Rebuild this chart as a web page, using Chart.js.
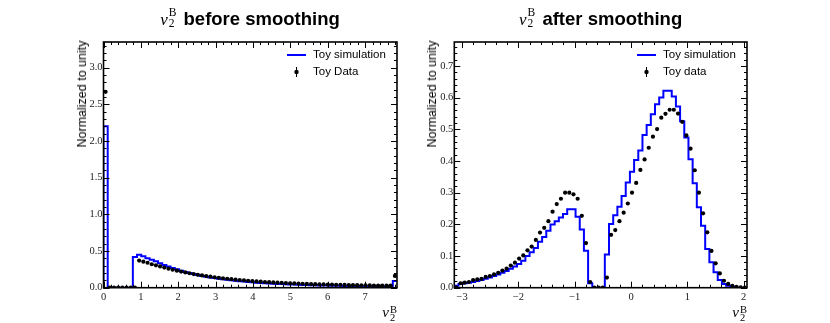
<!DOCTYPE html>
<html>
<head>
<meta charset="utf-8">
<script src="https://cdn.jsdelivr.net/npm/chart.js@4.4.1/dist/chart.umd.min.js"></script>
<style>
  body { margin: 0; background: #fff; }
  #wrap { position: relative; width: 830px; height: 323px; overflow: hidden; font-family: 'Liberation Sans', Arial, sans-serif; color: #000; }
  canvas { position: absolute; top: 0; }
  .title { position: absolute; top: 7px; font-weight: bold; font-size: 18.5px; line-height: 22px; text-align: center; white-space: nowrap; }
  .m { font-family: 'Liberation Serif', serif; font-weight: normal; }
  .m i { font-size: 17px; }
  .ss { display: inline-block; font-size: 11.5px; line-height: 11px; vertical-align: -2px; margin-left: 1px; margin-right: 2px; text-align: left; }
  .ss span { display: block; }
  .ylab { position: absolute; top: 94px; font-size: 12.5px; white-space: nowrap; transform: translate(-50%, -50%) rotate(-90deg); }
  .xlab { position: absolute; top: 304px; line-height: 16px; white-space: nowrap; }
  .xlab i { font-size: 15px; }
  .xlab .ss { font-size: 10.5px; line-height: 8.5px; vertical-align: -4px; margin-right: 0; }
</style>
</head>
<body>
<div id="wrap">
  <canvas id="before" width="415" height="323" style="left:0"></canvas>
  <canvas id="after" width="415" height="323" style="left:415px"></canvas>

  <div class="title" style="left:103.5px;width:293px"><span class="m"><i>v</i><span class="ss"><span>B</span><span>2</span></span></span> before smoothing</div>
  <div class="title" style="left:454.3px;width:292.7px"><span class="m"><i>v</i><span class="ss"><span>B</span><span>2</span></span></span> after smoothing</div>

  <div class="ylab" style="left:81.5px">Normalized to unity</div>
  <div class="ylab" style="left:431.5px">Normalized to unity</div>

  <div class="xlab m" style="right:433px"><i>v</i><span class="ss"><span>B</span><span>2</span></span></div>
  <div class="xlab m" style="right:83px"><i>v</i><span class="ss"><span>B</span><span>2</span></span></div>
</div>

<script>
// binning of both histograms (70 bins each)
const nBins = 70;
const rangeBefore = [0, 7.854];
const rangeAfter = [-3.14, 2.06];

const seriesNames = ['Toy simulation', 'Toy Data', 'Toy data'];

// before smoothing
const simBefore = [
  2.20, 0, 0, 0, 0, 0, 0, 0.42, 0.45, 0.43,
  0.40, 0.38, 0.36, 0.335, 0.31, 0.29, 0.27, 0.25, 0.232, 0.215,
  0.20, 0.186, 0.173, 0.161, 0.150, 0.140, 0.131, 0.122, 0.114, 0.107,
  0.100, 0.094, 0.088, 0.083, 0.078, 0.073, 0.069, 0.065, 0.061, 0.058,
  0.055, 0.052, 0.049, 0.046, 0.044, 0.042, 0.040, 0.038, 0.036, 0.034,
  0.033, 0.031, 0.030, 0.029, 0.027, 0.026, 0.025, 0.024, 0.023, 0.022,
  0.021, 0.021, 0.020, 0.019, 0.018, 0.018, 0.017, 0.016, 0.016, 0.09
];
const dataBefore = [
  2.67, 0, 0, 0, 0, 0, 0, 0, 0.37, 0.355,
  0.34, 0.32, 0.305, 0.29, 0.275, 0.26, 0.245, 0.232, 0.22, 0.208,
  0.197, 0.186, 0.176, 0.167, 0.158, 0.150, 0.142, 0.135, 0.128, 0.122,
  0.116, 0.110, 0.105, 0.100, 0.095, 0.090, 0.086, 0.082, 0.078, 0.075,
  0.072, 0.069, 0.066, 0.063, 0.061, 0.058, 0.056, 0.054, 0.052, 0.050,
  0.048, 0.046, 0.045, 0.043, 0.042, 0.040, 0.039, 0.038, 0.036, 0.035,
  0.034, 0.033, 0.032, 0.031, 0.030, 0.029, 0.028, 0.028, 0.027, 0.16
];

// after smoothing
const simAfter = [
  0.006, 0.012, 0.014, 0.016, 0.018, 0.021, 0.024, 0.028, 0.032, 0.037,
  0.042, 0.047, 0.053, 0.060, 0.067, 0.075, 0.085, 0.100, 0.112, 0.125,
  0.145, 0.160, 0.180, 0.200, 0.210, 0.222, 0.233, 0.248, 0.248, 0.224,
  0.184, 0.117, 0.014, 0, 0, 0, 0.105, 0.201, 0.229, 0.256,
  0.290, 0.332, 0.366, 0.403, 0.433, 0.482, 0.514, 0.548, 0.579, 0.601,
  0.622, 0.622, 0.604, 0.572, 0.526, 0.474, 0.406, 0.330, 0.254, 0.196,
  0.122, 0.080, 0.049, 0.024, 0.012, 0.006, 0.003, 0, 0, 0
];
const dataAfter = [
  0, 0.014, 0.016, 0.018, 0.024, 0.026, 0.028, 0.034, 0.037, 0.042,
  0.047, 0.054, 0.060, 0.070, 0.079, 0.092, 0.102, 0.118, 0.130, 0.151,
  0.174, 0.189, 0.210, 0.240, 0.264, 0.281, 0.300, 0.300, 0.295, 0.281,
  0.227, 0.141, 0.018, 0, 0, 0, 0.032, 0.167, 0.182, 0.210,
  0.237, 0.266, 0.300, 0.331, 0.372, 0.405, 0.442, 0.477, 0.501, 0.537,
  0.549, 0.562, 0.562, 0.550, 0.524, 0.481, 0.439, 0.371, 0.300, 0.235,
  0.175, 0.116, 0.077, 0.045, 0.022, 0.012, 0.006, 0.003, 0.001, 0
];

const xTicksBefore = [0, 1, 2, 3, 4, 5, 6, 7];
const yTicksBefore = [0, 0.5, 1.0, 1.5, 2.0, 2.5, 3.0];
const xTicksAfter = [-3, -2, -1, 0, 1, 2];
const yTicksAfter = [0, 0.1, 0.2, 0.3, 0.4, 0.5, 0.6, 0.7];
const yMaxBefore = 3.35;
const yMaxAfter = 0.776;

function binEdges(range, n) {
  const w = (range[1] - range[0]) / n;
  const e = [];
  for (let i = 0; i <= n; i++) e.push(range[0] + i * w);
  return e;
}

// outline of a step histogram, closed down to zero at both ends
function stepPoints(edges, vals) {
  const pts = [{ x: edges[0], y: 0 }];
  vals.forEach((v, i) => pts.push({ x: edges[i], y: v }));
  pts.push({ x: edges[vals.length], y: vals[vals.length - 1] });
  pts.push({ x: edges[vals.length], y: 0 });
  return pts;
}

function centerPoints(edges, vals) {
  return vals.map((v, i) => ({ x: (edges[i] + edges[i + 1]) / 2, y: v }));
}

// frame with inward ticks on all four sides, plus the legend
const frame = {
  id: 'frame',
  afterDraw(chart, args, o) {
    const { ctx, chartArea: a } = chart;
    const xs = chart.scales.x, ys = chart.scales.y;
    ctx.save();
    ctx.strokeStyle = '#000';
    ctx.lineWidth = 1;
    const ticks = (scale, step, len, horiz) => {
      const i0 = Math.ceil(scale.min / step - 1e-6), i1 = Math.floor(scale.max / step + 1e-6);
      ctx.beginPath();
      for (let i = i0; i <= i1; i++) {
        const p = Math.round(scale.getPixelForValue(i * step)) + 0.5;
        if (horiz) {
          ctx.moveTo(p, a.bottom); ctx.lineTo(p, a.bottom - len);
          ctx.moveTo(p, a.top); ctx.lineTo(p, a.top + len);
        } else {
          ctx.moveTo(a.left, p); ctx.lineTo(a.left + len, p);
          ctx.moveTo(a.right, p); ctx.lineTo(a.right - len, p);
        }
      }
      ctx.stroke();
    };
    ticks(xs, o.xMinor, 3, true);
    ticks(xs, o.xMajor, 6, true);
    ticks(ys, o.yMinor, 3, false);
    ticks(ys, o.yMajor, 6, false);
    ctx.lineWidth = 1.6;
    ctx.strokeRect(a.left, a.top, a.right - a.left, a.bottom - a.top);

    // legend
    const ds = chart.data.datasets;
    const lx = a.right - 110, tx = a.right - 84;
    ctx.font = '11.5px "Liberation Sans", Arial, sans-serif';
    ctx.textBaseline = 'middle';
    ctx.fillStyle = '#000';
    ctx.strokeStyle = ds[0].borderColor;
    ctx.lineWidth = 2;
    ctx.beginPath(); ctx.moveTo(lx, 55); ctx.lineTo(lx + 19, 55); ctx.stroke();
    ctx.fillText(ds[0].label, tx, 55);
    ctx.strokeStyle = '#000';
    ctx.lineWidth = 1;
    ctx.beginPath(); ctx.moveTo(lx + 9.5, 67); ctx.lineTo(lx + 9.5, 77); ctx.stroke();
    ctx.beginPath(); ctx.arc(lx + 9.5, 72, 2.2, 0, Math.PI * 2); ctx.fill();
    ctx.fillText(ds[1].label, tx, 72);
    ctx.restore();
  }
};

const minus = v => (v < 0 ? '\u2212' + Math.abs(v) : String(v));

function makePanel(id, range, sim, dat, dataLabel, xt, yt, yMax, yWidth, padRight, minor) {
  const edges = binEdges(range, nBins);
  const tickFont = { family: "'Liberation Serif', serif", size: 10.5 };
  return new Chart(document.getElementById(id), {
    type: 'line',
    data: {
      datasets: [
        {
          label: seriesNames[0],
          data: stepPoints(edges, sim),
          borderColor: '#0000ff',
          borderWidth: 2,
          stepped: true,
          pointRadius: 0,
          fill: false,
          tension: 0,
          clip: 0,
          order: 1
        },
        {
          label: dataLabel,
          type: 'scatter',
          data: centerPoints(edges, dat),
          showLine: false,
          pointRadius: 2.1,
          pointBackgroundColor: '#000',
          pointBorderWidth: 0,
          clip: 0,
          order: 0
        }
      ]
    },
    options: {
      responsive: false,
      animation: false,
      events: [],
      layout: { padding: { left: 0, right: padRight, top: 42, bottom: 0 } },
      plugins: {
        legend: { display: false },
        tooltip: { enabled: false },
        frame: minor
      },
      scales: {
        x: {
          type: 'linear',
          min: range[0],
          max: range[1],
          afterFit: s => { s.height = 35.3; },
          afterBuildTicks: s => { s.ticks = xt.map(v => ({ value: v })); },
          grid: { display: false, drawTicks: false },
          border: { display: false },
          ticks: { padding: 3, autoSkip: false, maxRotation: 0, color: '#222', font: tickFont, callback: v => minus(v) }
        },
        y: {
          type: 'linear',
          min: 0,
          max: yMax,
          afterFit: s => { s.width = yWidth; },
          afterBuildTicks: s => { s.ticks = yt.map(v => ({ value: v })); },
          grid: { display: false, drawTicks: false },
          border: { display: false },
          ticks: { padding: 1, autoSkip: false, color: '#222', font: tickFont, callback: v => v.toFixed(1) }
        }
      }
    },
    plugins: [frame]
  });
}

makePanel('before', rangeBefore, simBefore, dataBefore, seriesNames[1],
  xTicksBefore, yTicksBefore, yMaxBefore, 103.5, 18,
  { xMajor: 1, xMinor: 0.2, yMajor: 0.5, yMinor: 0.1 });
makePanel('after', rangeAfter, simAfter, dataAfter, seriesNames[2],
  xTicksAfter, yTicksAfter, yMaxAfter, 39.3, 83,
  { xMajor: 1, xMinor: 0.2, yMajor: 0.1, yMinor: 0.02 });
</script>
</body>
</html>
